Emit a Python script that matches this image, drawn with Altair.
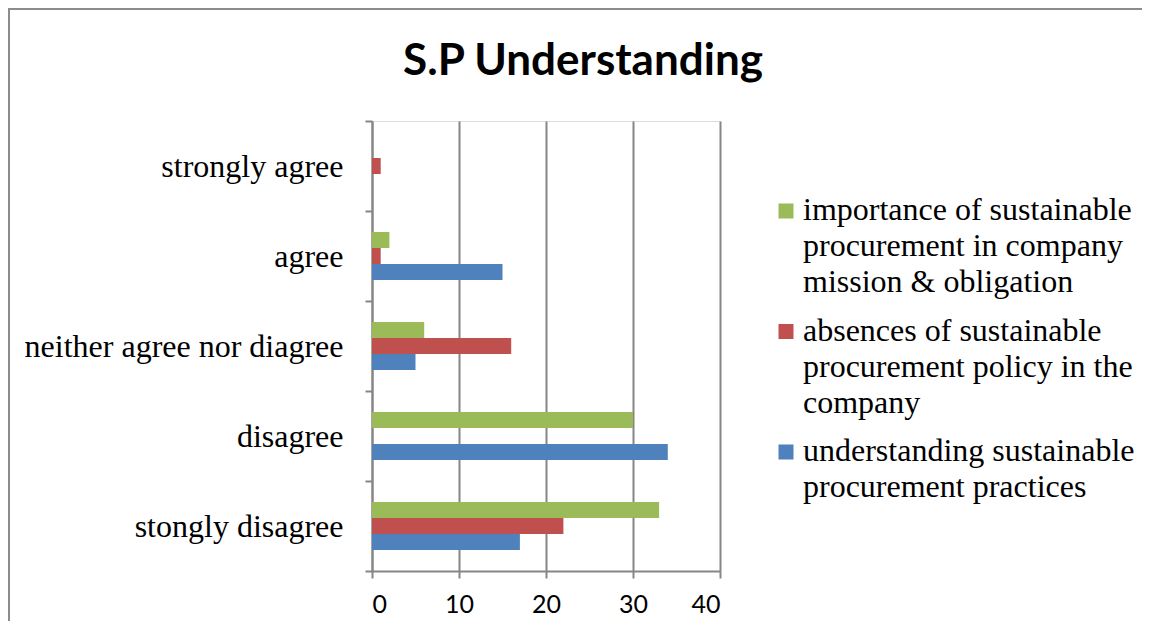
import altair as alt
import pandas as pd

categories = ["strongly agree", "agree", "neither agree nor diagree", "disagree", "stongly disagree"]
series_labels = [
    "importance of sustainable|procurement in company|mission & obligation",
    "absences of sustainable|procurement policy in the|company",
    "understanding sustainable|procurement practices",
]
values_importance = [0, 2, 6, 30, 33]
values_absences = [1, 1, 16, 0, 22]
values_understanding = [0, 15, 5, 34, 17]
colors = ["#9BBB59", "#C0504D", "#4F81BD"]
x_ticks = [0, 10, 20, 30, 40]

rows = []
for s, vals in zip(series_labels, [values_importance, values_absences, values_understanding]):
    for c, v in zip(categories, vals):
        rows.append({"category": c, "series": s, "value": v})
df = pd.DataFrame(rows)

GRAY = "#868686"

bars = alt.Chart(df).mark_bar().encode(
    x=alt.X(
        "value:Q",
        scale=alt.Scale(domain=[0, 40], nice=False),
        axis=alt.Axis(
            values=x_ticks, grid=True, gridColor=GRAY, gridWidth=2, gridOpacity=1,
            domainColor=GRAY, domainWidth=2, tickColor=GRAY, tickWidth=2, tickSize=7,
            labelFont="Lato", labelFontSize=25, labelColor="black", labelPadding=14,
            title=None,
        ),
    ),
    y=alt.Y(
        "category:N",
        sort=categories,
        scale=alt.Scale(paddingInner=0, paddingOuter=0),
        axis=alt.Axis(
            title=None, tickBand="extent", ticks=True, tickSize=7, tickColor=GRAY, tickWidth=2,
            grid=False, domainColor=GRAY, domainWidth=2,
            labelFont="Liberation Serif", labelFontSize=32, labelColor="black",
            labelPadding=22, labelLimit=600,
        ),
    ),
    yOffset=alt.YOffset(
        "series:N", sort=series_labels,
        scale=alt.Scale(paddingInner=0, paddingOuter=0, range=[21, 69]),
    ),
    color=alt.Color(
        "series:N",
        sort=series_labels,
        scale=alt.Scale(domain=series_labels, range=colors),
        legend=alt.Legend(
            title=None, orient="none", legendX=398, legendY=83, padding=0,
            symbolType="M-1,-2.2H1V-0.2H-1Z", symbolSize=225, symbolStrokeWidth=0,
            labelFont="Liberation Serif", labelFontSize=32, labelColor="black",
            labelExpr="split(datum.label, '|')", labelLimit=600,
            labelBaseline="alphabetic", labelOffset=1, rowPadding=16.5,
        ),
    ),
)

frame_data = pd.DataFrame({"a": [0]})
frame_top = alt.Chart(frame_data).mark_rule(
    stroke="#8c8c8c", strokeWidth=2, clip=False
).encode(x=alt.value(-364), x2=alt.value(2000), y=alt.value(-112))
frame_left = alt.Chart(frame_data).mark_rule(
    stroke="#8c8c8c", strokeWidth=2, clip=False
).encode(x=alt.value(-363), y=alt.value(-113), y2=alt.value(900))

chart = alt.layer(frame_top, frame_left, bars).properties(
    width=348,
    height=450,
    autosize=alt.AutoSizeParams(type="none"),
    padding={"left": 364, "top": 113, "right": 422, "bottom": 50},
    title=alt.TitleParams(
        text="S.P Understanding", font="Lato", fontSize=44, fontWeight="bold",
        anchor="middle", dx=37, dy=159, baseline="alphabetic", offset=47, color="black",
    ),
).configure_view(stroke=None).configure(
    style={"guide-label": {"lineHeight": 36}}
)

chart.save("out.html", embed_options={"renderer": "svg", "actions": False})
